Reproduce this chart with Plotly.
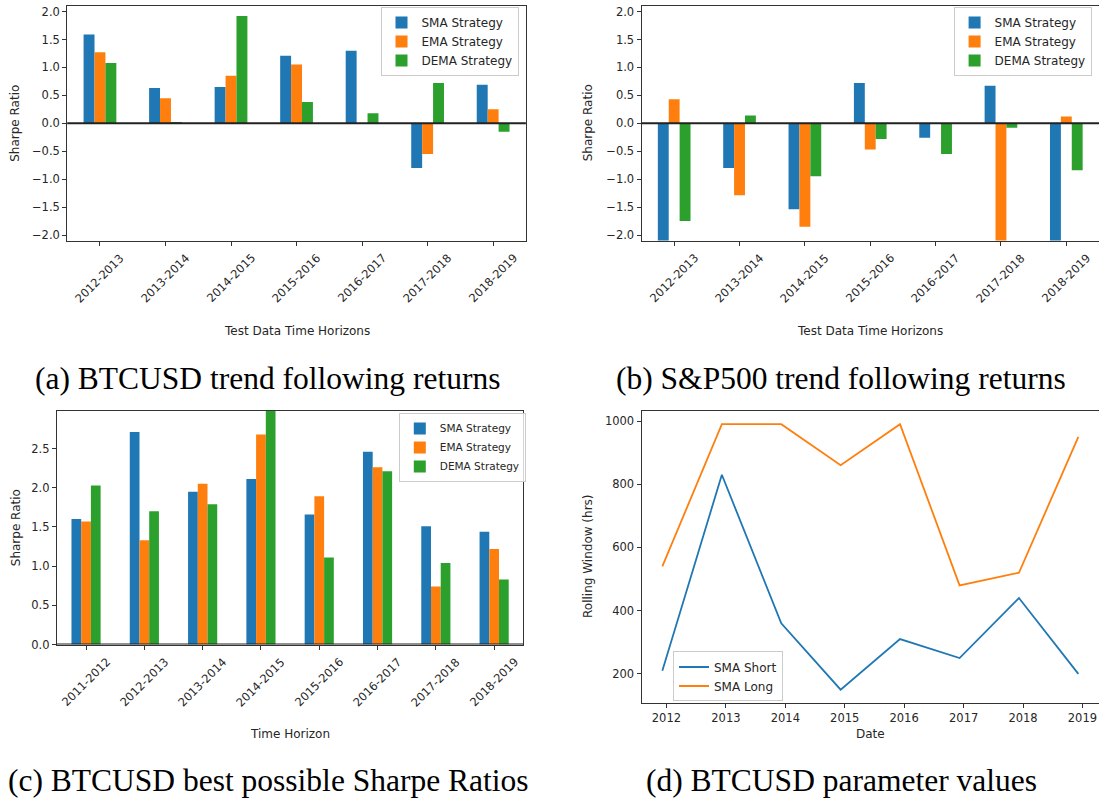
import pandas as pd
import plotly.graph_objects as go

# ---------------- data ----------------
periods_test = ["2012-2013", "2013-2014", "2014-2015", "2015-2016",
                "2016-2017", "2017-2018", "2018-2019"]
btc_sma = [1.59, 0.63, 0.65, 1.21, 1.30, -0.80, 0.69]
btc_ema = [1.27, 0.45, 0.85, 1.05, 0.0, -0.55, 0.25]
btc_dema = [1.08, 0.01, 1.92, 0.38, 0.18, 0.72, -0.15]

spx_sma = [-2.6, -0.80, -1.54, 0.72, -0.26, 0.67, -2.4]
spx_ema = [0.43, -1.29, -1.85, -0.47, 0.0, -2.3, 0.12]
spx_dema = [-1.75, 0.14, -0.95, -0.28, -0.55, -0.08, -0.84]

periods_best = ["2011-2012", "2012-2013", "2013-2014", "2014-2015",
                "2015-2016", "2016-2017", "2017-2018", "2018-2019"]
best_sma = [1.60, 2.71, 1.95, 2.11, 1.66, 2.46, 1.51, 1.44]
best_ema = [1.57, 1.33, 2.05, 2.68, 1.89, 2.26, 0.74, 1.22]
best_dema = [2.03, 1.70, 1.79, 3.00, 1.11, 2.21, 1.04, 0.83]

param_dates = ["2011-12-07", "2012-12-07", "2013-12-07", "2014-12-07",
               "2015-12-07", "2016-12-07", "2017-12-07", "2018-12-07"]
sma_short = [210, 830, 360, 150, 310, 250, 440, 200]
sma_long = [540, 990, 990, 860, 990, 480, 520, 950]

series_names = ["SMA Strategy", "EMA Strategy", "DEMA Strategy"]
colors = ["#1f77b4", "#ff7f0e", "#2ca02c"]

# ---------------- figure ----------------
W, H = 1099, 808
TXT = "#262626"
LINE = "#333333"
TICKFONT = dict(family="DejaVu Sans", size=11.5, color=TXT)


def px(x):
    return x / W


def py(y):
    return 1 - y / H


fig = go.Figure()

bar_sets = [
    ("x", "y", "legend", periods_test, [btc_sma, btc_ema, btc_dema]),
    ("x2", "y2", "legend2", periods_test, [spx_sma, spx_ema, spx_dema]),
    ("x3", "y3", "legend3", periods_best, [best_sma, best_ema, best_dema]),
]
for xa, ya, lg, cats, vals in bar_sets:
    for name, col, v in zip(series_names, colors, vals):
        fig.add_trace(go.Bar(x=cats, y=v, name=name, marker_color=col,
                             marker_line_width=0, xaxis=xa, yaxis=ya,
                             legend=lg))

fig.add_trace(go.Scatter(x=param_dates, y=sma_short, mode="lines",
                         name="SMA Short", line=dict(color="#1f77b4", width=1.8),
                         xaxis="x4", yaxis="y4", legend="legend4"))
fig.add_trace(go.Scatter(x=param_dates, y=sma_long, mode="lines",
                         name="SMA Long", line=dict(color="#ff7f0e", width=1.8),
                         xaxis="x4", yaxis="y4", legend="legend4"))

# date range with 5% margins
d = pd.to_datetime(param_dates)
span = d.max() - d.min()
d_range = [str((d.min() - span * 0.05).date()), str((d.max() + span * 0.05).date())]

common_axis = dict(showgrid=False, zeroline=False, showline=True, linecolor=LINE,
                   linewidth=1, ticks="outside", ticklen=4, tickwidth=1,
                   tickcolor=LINE, tickfont=TICKFONT)


def fmt(v):
    return f"{v:.1f}".replace("-", "\u2212")


ab_ticks = [-2.0, -1.5, -1.0, -0.5, 0.0, 0.5, 1.0, 1.5, 2.0]
c_ticks = [0.0, 0.5, 1.0, 1.5, 2.0, 2.5]

fig.update_layout(
    width=W, height=H, margin=dict(l=0, r=0, t=0, b=0),
    paper_bgcolor="white", plot_bgcolor="white",
    barmode="group", bargap=0.5, bargroupgap=0,
    xaxis=dict(common_axis, domain=[px(67.2), px(525.9)], anchor="y", mirror=True,
               range=[-0.5, 6.5], showticklabels=False),
    yaxis=dict(common_axis, domain=[py(242), py(5)], anchor="x", mirror=True,
               range=[-2.1, 2.1], tickvals=ab_ticks, ticktext=[fmt(v) for v in ab_ticks]),
    xaxis2=dict(common_axis, domain=[px(641.5), 1.0], anchor="y2", mirror=True,
                range=[-0.5, 6.5], showticklabels=False),
    yaxis2=dict(common_axis, domain=[py(242), py(5)], anchor="x2", mirror=False,
                range=[-2.1, 2.1], tickvals=ab_ticks, ticktext=[fmt(v) for v in ab_ticks]),
    xaxis3=dict(common_axis, domain=[px(56.9), px(523.3)], anchor="y3", mirror=True,
                range=[-0.5, 7.5], showticklabels=False),
    yaxis3=dict(common_axis, domain=[py(650), py(414)], anchor="x3", mirror=True,
                range=[0, 2.98], tickvals=c_ticks, ticktext=[fmt(v) for v in c_ticks]),
    xaxis4=dict(common_axis, domain=[px(641.5), 1.0], anchor="y4", mirror=True,
                type="date", range=d_range, tick0="2012-01-01", dtick="M12",
                tickformat="%Y"),
    yaxis4=dict(common_axis, domain=[py(709), py(414)], anchor="x4", mirror=False,
                range=[108, 1032], tickvals=[200, 400, 600, 800, 1000]),
)

leg_common = dict(xanchor="left", yanchor="top", bordercolor="#cccccc",
                  borderwidth=1, bgcolor="rgba(255,255,255,0.8)",
                  font=dict(family="DejaVu Sans", size=12, color=TXT),
                  tracegroupgap=0)
fig.update_layout(
    legend=dict(leg_common, x=px(380.5), y=py(6)),
    legend2=dict(leg_common, x=px(953.6), y=py(6)),
    legend3=dict(leg_common, x=px(398.8), y=py(416),
                 font=dict(family="DejaVu Sans", size=10.5, color=TXT)),
    legend4=dict(leg_common, x=px(673), y=py(657)),
)

# zero reference lines
for xa, ya in [("x", "y"), ("x2", "y2"), ("x3", "y3")]:
    fig.add_shape(type="line", xref=f"{xa} domain", yref=ya, x0=0, x1=1, y0=0, y1=0,
                  line=dict(color="#222222", width=2), layer="above")

ann = []
# rotated category labels
for xa, cats, bottom in [("x", periods_test, 242), ("x2", periods_test, 242),
                         ("x3", periods_best, 650)]:
    for c in cats:
        ann.append(dict(x=c, xref=xa, y=py(bottom + 38), yref="paper", text=c,
                        textangle=-45, showarrow=False, xanchor="center",
                        yanchor="middle", font=TICKFONT))

TITLEFONT = dict(family="DejaVu Sans", size=12, color=TXT)
for xa, text, y in [("x", "Test Data Time Horizons", 333), ("x2", "Test Data Time Horizons", 333),
                    ("x3", "Time Horizon", 740), ("x4", "Date", 740)]:
    ann.append(dict(x=0.5, xref=f"{xa} domain", y=py(y), yref="paper", text=text,
                    showarrow=False, xanchor="center", yanchor="middle", font=TITLEFONT))
for ya, text, x in [("y", "Sharpe Ratio", 15.5), ("y2", "Sharpe Ratio", 588),
                    ("y3", "Sharpe Ratio", 15.5), ("y4", "Rolling Window (hrs)", 588)]:
    ann.append(dict(x=px(x), xref="paper", y=0.5, yref=f"{ya} domain", text=text,
                    textangle=-90, showarrow=False, xanchor="center", yanchor="middle",
                    font=TITLEFONT))

CAPFONT = dict(family="Liberation Serif", size=31.5, color="black")
for text, x, y in [("(a) BTCUSD trend following returns", 267.6, 381),
                   ("(b) S&amp;P500 trend following returns", 841, 381),
                   ("(c) BTCUSD best possible Sharpe Ratios", 268.5, 787),
                   ("(d) BTCUSD parameter values", 841, 787)]:
    ann.append(dict(x=px(x), xref="paper", y=py(y), yref="paper", text=text,
                    showarrow=False, xanchor="center", yanchor="middle", font=CAPFONT))

fig.update_layout(annotations=ann)
fig.write_html("out.html", config={"displayModeBar": False},
               post_script="document.body.style.margin='0';document.body.style.overflow='hidden';")
